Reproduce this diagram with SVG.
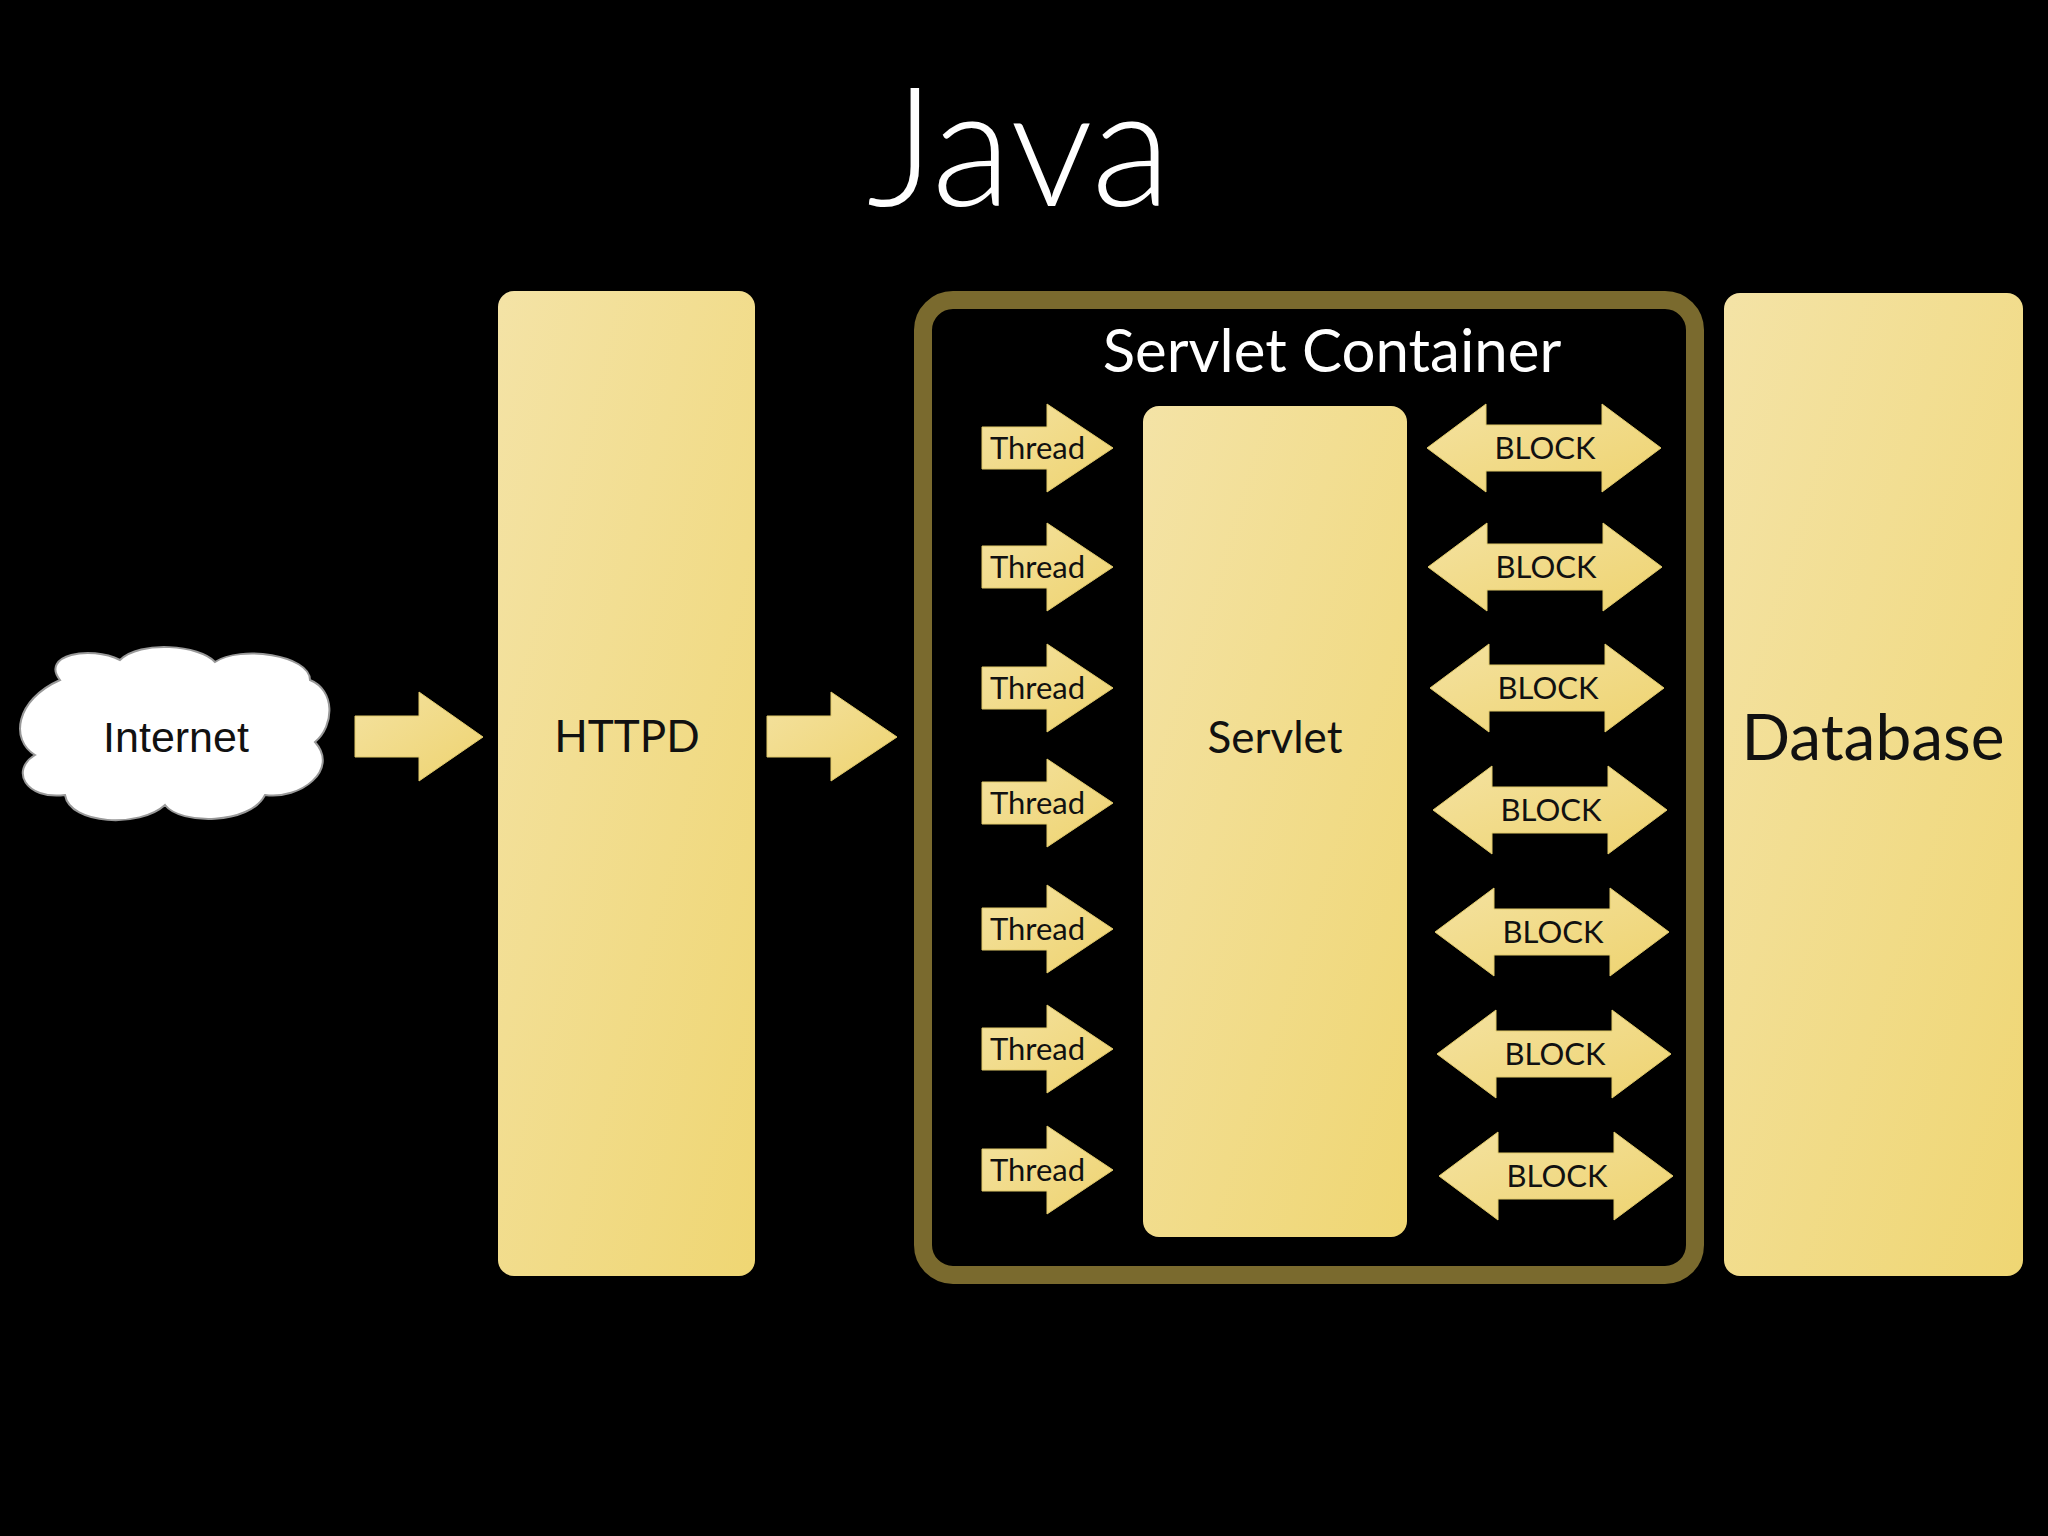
<svg xmlns="http://www.w3.org/2000/svg" width="2048" height="1536" viewBox="0 0 2048 1536">
<style>
.box{fill:url(#g);}
.ar{fill:url(#g2);stroke:#e0c96a;stroke-width:1}
.t{font-family:Lato,"Open Sans",sans-serif;fill:#111;text-anchor:middle}
.w{font-family:Lato,"Open Sans",sans-serif;fill:#fff;text-anchor:middle}
</style>
<defs>
<linearGradient id="g" x1="0" y1="0" x2="1" y2="1"><stop offset="0" stop-color="#f4e3a6"/><stop offset="1" stop-color="#efd673"/></linearGradient>
<linearGradient id="g2" x1="0" y1="0" x2="1" y2="1"><stop offset="0" stop-color="#f4e2a0"/><stop offset="1" stop-color="#eed370"/></linearGradient>
<path id="th" d="M0,-21 H65 V-44 L131,0 L65,44 V21 H0 Z"/>
<path id="bl" d="M0,0 L59,-44 V-23 H175 V-44 L234,0 L175,44 V23 H59 V44 Z"/>
</defs>
<rect width="2048" height="1536" fill="#000"/>
<text class="w" x="1019" y="206" font-size="165" font-weight="300">Java</text>
<g id="internet">
<path d="M60,680 C40,655 90,645 120,660 C140,640 200,645 215,662 C240,645 310,655 310,680 C335,690 335,725 315,742 C340,770 300,800 265,795 C250,825 180,825 165,805 C140,828 70,825 65,795 C25,800 10,770 35,755 C10,740 15,700 60,680 Z" fill="#fff" stroke="#999" stroke-width="2"/>
<text x="176" y="752" font-family="Liberation Sans,Arial,sans-serif" font-size="43" fill="#111" text-anchor="middle">Internet</text>
</g>
<g id="connectors">
<path class="ar" d="M355,716 H419 V692 L483,737 L419,781 V757 H355 Z"/>
<path class="ar" d="M767,716 H831 V692 L897,737 L831,781 V757 H767 Z"/>
</g>
<g id="httpd"><rect class="box" x="498" y="291" width="257" height="985" rx="16"/><text class="t" x="627" y="752" font-size="44">HTTPD</text></g>
<g id="container"><rect x="923" y="300" width="772" height="975" rx="30" fill="#000" stroke="#7a6a2e" stroke-width="18"/>
<text class="w" x="1332" y="372" font-size="60">Servlet Container</text></g>
<g id="servlet"><rect class="box" x="1143" y="406" width="264" height="831" rx="16"/><text class="t" x="1275" y="753" font-size="44">Servlet</text></g>
<g id="threads">
<use href="#th" class="ar" x="982" y="448"/><text x="990" y="459" font-family="Lato,sans-serif" font-size="31" fill="#111">Thread</text>
<use href="#th" class="ar" x="982" y="567"/><text x="990" y="578" font-family="Lato,sans-serif" font-size="31" fill="#111">Thread</text>
<use href="#th" class="ar" x="982" y="688"/><text x="990" y="699" font-family="Lato,sans-serif" font-size="31" fill="#111">Thread</text>
<use href="#th" class="ar" x="982" y="803"/><text x="990" y="814" font-family="Lato,sans-serif" font-size="31" fill="#111">Thread</text>
<use href="#th" class="ar" x="982" y="929"/><text x="990" y="940" font-family="Lato,sans-serif" font-size="31" fill="#111">Thread</text>
<use href="#th" class="ar" x="982" y="1049"/><text x="990" y="1060" font-family="Lato,sans-serif" font-size="31" fill="#111">Thread</text>
<use href="#th" class="ar" x="982" y="1170"/><text x="990" y="1181" font-family="Lato,sans-serif" font-size="31" fill="#111">Thread</text>
</g>
<g id="blocks">
<use href="#bl" class="ar" x="1427" y="448"/><text class="t" x="1545" y="459" font-size="31">BLOCK</text>
<use href="#bl" class="ar" x="1428" y="567"/><text class="t" x="1546" y="578" font-size="31">BLOCK</text>
<use href="#bl" class="ar" x="1430" y="688"/><text class="t" x="1548" y="699" font-size="31">BLOCK</text>
<use href="#bl" class="ar" x="1433" y="810"/><text class="t" x="1551" y="821" font-size="31">BLOCK</text>
<use href="#bl" class="ar" x="1435" y="932"/><text class="t" x="1553" y="943" font-size="31">BLOCK</text>
<use href="#bl" class="ar" x="1437" y="1054"/><text class="t" x="1555" y="1065" font-size="31">BLOCK</text>
<use href="#bl" class="ar" x="1439" y="1176"/><text class="t" x="1557" y="1187" font-size="31">BLOCK</text>
</g>
<g id="database"><rect class="box" x="1724" y="293" width="299" height="983" rx="16"/><text class="t" x="1873" y="760" font-size="64">Database</text></g>
</svg>
